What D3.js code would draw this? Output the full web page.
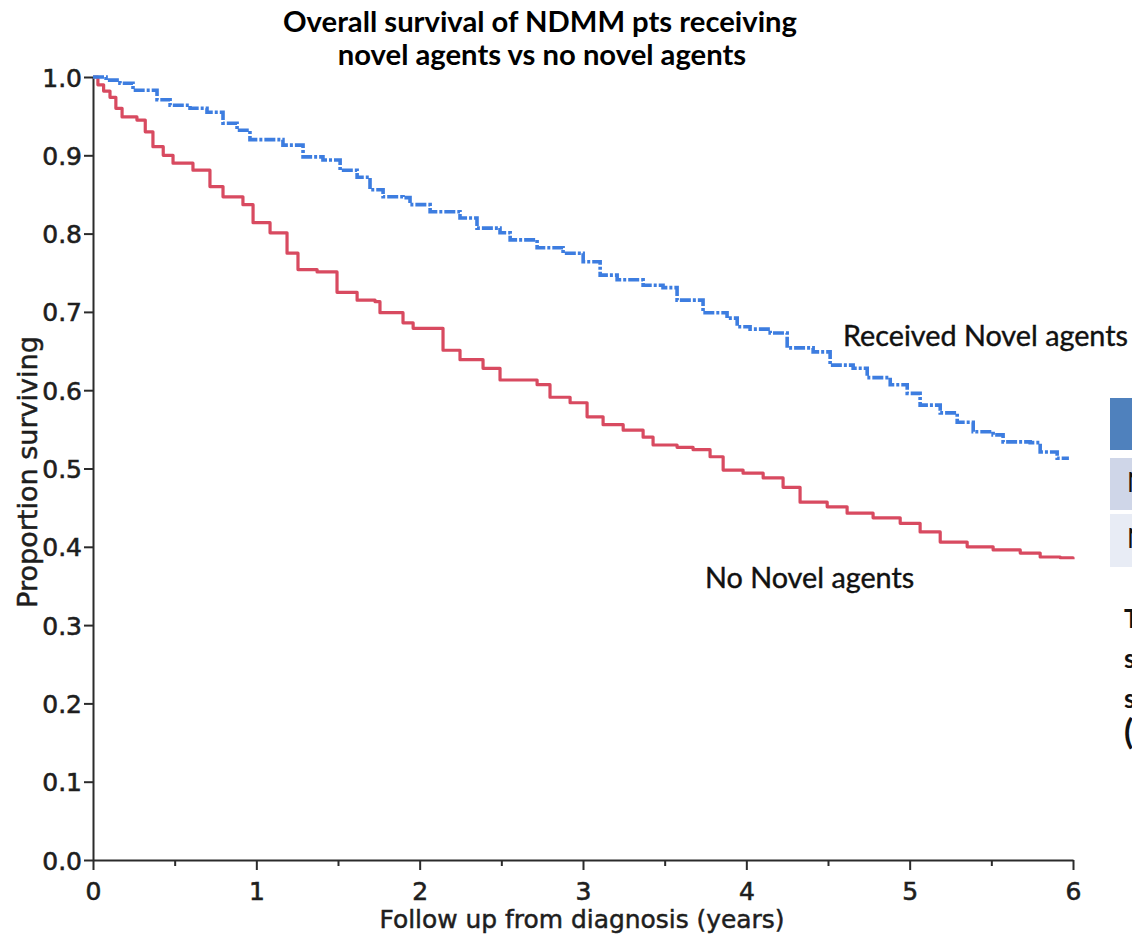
<!DOCTYPE html>
<html>
<head>
<meta charset="utf-8">
<script src="https://cdn.jsdelivr.net/npm/d3@7"></script>
<style>
  html, body { margin: 0; padding: 0; background: #fff; overflow: hidden; }
  svg { display: block; }
</style>
</head>
<body>
<svg id="chart" width="1132" height="937"></svg>
<script>
// ---------- data ----------
const titleLines = ["Overall survival of NDMM pts receiving", "novel agents vs no novel agents"];
const xTicks = [0, 1, 2, 3, 4, 5, 6];
const xMinorTicks = [0.5, 1.5, 2.5, 3.5, 4.5, 5.5];
const yTicks = [0.0, 0.1, 0.2, 0.3, 0.4, 0.5, 0.6, 0.7, 0.8, 0.9, 1.0];
const xLabel = "Follow up from diagnosis (years)";
const yLabel = "Proportion surviving";
const seriesNames = ["Received Novel agents", "No Novel agents"];

// Received Novel agents: [years, proportion surviving]
const novelTimes = [0, 0.08, 0.165, 0.245, 0.392, 0.472, 0.594, 0.698, 0.796, 0.882, 0.961, 1.163, 1.286, 1.408, 1.513, 1.617, 1.696, 1.776, 1.898, 1.941, 2.064, 2.247, 2.351, 2.492, 2.554, 2.719, 2.878, 3.001, 3.105, 3.209, 3.368, 3.490, 3.576, 3.735, 3.882, 3.944, 4.023, 4.146, 4.250, 4.409, 4.513, 4.654, 4.740, 4.881, 4.985, 5.064, 5.187, 5.291, 5.389, 5.511, 5.572, 5.738, 5.799, 5.903, 5.975];
const novelSurv  = [1.000, 0.996, 0.992, 0.983, 0.971, 0.964, 0.960, 0.955, 0.941, 0.932, 0.920, 0.913, 0.898, 0.894, 0.881, 0.872, 0.856, 0.847, 0.846, 0.837, 0.828, 0.820, 0.807, 0.801, 0.792, 0.782, 0.775, 0.764, 0.747, 0.741, 0.734, 0.731, 0.715, 0.699, 0.692, 0.681, 0.678, 0.673, 0.654, 0.649, 0.632, 0.628, 0.616, 0.607, 0.596, 0.581, 0.571, 0.559, 0.547, 0.543, 0.534, 0.533, 0.521, 0.513, 0.513];

// No Novel agents
const noNovelTimes = [0, 0.03, 0.065, 0.104, 0.14, 0.178, 0.269, 0.32, 0.367, 0.43, 0.490, 0.612, 0.716, 0.796, 0.918, 0.980, 1.084, 1.188, 1.255, 1.372, 1.494, 1.617, 1.727, 1.757, 1.898, 1.960, 2.143, 2.247, 2.388, 2.492, 2.719, 2.798, 2.921, 3.025, 3.123, 3.246, 3.368, 3.429, 3.576, 3.674, 3.778, 3.858, 3.980, 4.103, 4.225, 4.329, 4.495, 4.617, 4.776, 4.942, 5.064, 5.187, 5.352, 5.511, 5.677, 5.799, 5.922, 6.0];
const noNovelSurv  = [1.000, 0.990, 0.982, 0.974, 0.960, 0.949, 0.945, 0.930, 0.911, 0.900, 0.890, 0.881, 0.860, 0.847, 0.837, 0.814, 0.801, 0.775, 0.754, 0.751, 0.725, 0.715, 0.713, 0.699, 0.686, 0.679, 0.651, 0.639, 0.628, 0.613, 0.607, 0.591, 0.584, 0.566, 0.556, 0.549, 0.540, 0.530, 0.527, 0.524, 0.515, 0.498, 0.494, 0.488, 0.476, 0.457, 0.451, 0.443, 0.437, 0.430, 0.419, 0.406, 0.400, 0.396, 0.392, 0.387, 0.386, 0.384];

// partially visible side table (cut off at the right edge)
const sideRows = ["", "No novel agents", "Novel agents"];
const sideText = ["The", "survival", "significantly", "("];

// ---------- layout ----------
const svg = d3.select("#chart");
const plot = { left: 93, right: 1073, top: 77, bottom: 860 };

const x = d3.scaleLinear().domain([0, 6]).range([plot.left, plot.right]);
const y = d3.scaleLinear().domain([0, 1]).range([plot.bottom, plot.top]);

const axisColor = "#2b2b2b";
const tickFont = "'DejaVu Sans', sans-serif";
const textColor = "#1e1e1e";

function fitText(sel, targetWidth) {
  const node = sel.node();
  const fs = parseFloat(sel.attr("font-size"));
  const w = node.getComputedTextLength();
  sel.attr("font-size", (fs * targetWidth / w).toFixed(2));
}

// title
const t1 = svg.append("text").attr("x", 540).attr("y", 32)
  .attr("text-anchor", "middle").attr("font-family", "Lato, 'Open Sans', sans-serif")
  .attr("font-weight", "bold").attr("font-size", 26).attr("fill", "#000")
  .text(titleLines[0]);
fitText(t1, 514);
svg.append("text").attr("x", 542).attr("y", 65)
  .attr("text-anchor", "middle").attr("font-family", "Lato, 'Open Sans', sans-serif")
  .attr("font-weight", "bold").attr("font-size", +t1.attr("font-size")).attr("fill", "#000")
  .text(titleLines[1]);

// y axis
const yAxis = svg.append("g").attr("transform", `translate(${plot.left},0)`)
  .call(d3.axisLeft(y).tickValues(yTicks).tickFormat(d3.format(".1f"))
    .tickSize(9).tickSizeOuter(0).tickPadding(2));
yAxis.select(".domain").attr("stroke", axisColor).attr("stroke-width", 2);
yAxis.selectAll(".tick line").attr("stroke", axisColor).attr("stroke-width", 2);
yAxis.selectAll(".tick text").attr("font-family", tickFont).attr("font-size", 25)
  .attr("fill", textColor).attr("stroke", textColor).attr("stroke-width", 0.6).attr("dy", "0.36em");

// x axis
const xAxis = svg.append("g").attr("transform", `translate(0,${plot.bottom})`)
  .call(d3.axisBottom(x).tickValues(xTicks).tickFormat(d3.format("d"))
    .tickSize(10).tickSizeOuter(0).tickPadding(12));
xAxis.select(".domain").attr("stroke", axisColor).attr("stroke-width", 2);
xAxis.selectAll(".tick line").attr("stroke", axisColor).attr("stroke-width", 2);
xAxis.selectAll(".tick text").attr("font-family", tickFont).attr("font-size", 25)
  .attr("fill", textColor).attr("stroke", textColor).attr("stroke-width", 0.6);

const xMinor = svg.append("g").attr("transform", `translate(0,${plot.bottom})`)
  .call(d3.axisBottom(x).tickValues(xMinorTicks).tickFormat("").tickSize(6).tickSizeOuter(0));
xMinor.select(".domain").remove();
xMinor.selectAll(".tick line").attr("stroke", axisColor).attr("stroke-width", 2);

// axis titles
const xl = svg.append("text").attr("x", 582).attr("y", 928).attr("text-anchor", "middle")
  .attr("font-family", tickFont).attr("font-size", 24).attr("fill", textColor)
  .attr("stroke", textColor).attr("stroke-width", 0.5).text(xLabel);
fitText(xl, 405);
const yl = svg.append("text").attr("transform", "translate(37,472) rotate(-90)").attr("text-anchor", "middle")
  .attr("font-family", tickFont).attr("font-size", 24).attr("fill", textColor)
  .attr("stroke", textColor).attr("stroke-width", 0.5).text(yLabel);
fitText(yl, 272);

// curves
const line = d3.line().x(d => x(d[0])).y(d => y(d[1])).curve(d3.curveStepAfter);
const novel = novelTimes.map((t, i) => [t, novelSurv[i]]);
const noNovel = noNovelTimes.map((t, i) => [t, noNovelSurv[i]]);

svg.append("path").datum(noNovel).attr("d", line).attr("fill", "none")
  .attr("stroke", "#d84a60").attr("stroke-width", 3.2).attr("stroke-linejoin", "round");
svg.append("path").datum(novel).attr("d", line).attr("fill", "none")
  .attr("stroke", "#3d7de0").attr("stroke-width", 3.6)
  .attr("stroke-dasharray", "11,2,3,2");

// curve labels
const l1 = svg.append("text").attr("x", 843).attr("y", 346)
  .attr("font-family", "Lato, 'Open Sans', sans-serif").attr("font-size", 26).attr("fill", "#111")
  .attr("stroke", "#111").attr("stroke-width", 0.4)
  .text(seriesNames[0]);
fitText(l1, 285);
svg.append("text").attr("x", 705).attr("y", 588)
  .attr("font-family", "Lato, 'Open Sans', sans-serif").attr("font-size", +l1.attr("font-size")).attr("fill", "#111")
  .attr("stroke", "#111").attr("stroke-width", 0.4)
  .text(seriesNames[1]);

// side table (cut off by the right edge, as in the source slide)
const cellY = [398, 458, 514];
const cellH = [52, 52, 53];
const cellFill = ["#4f81bd", "#cfd6e8", "#e8ecf5"];
svg.selectAll("rect.side").data(sideRows).join("rect").attr("class", "side")
  .attr("x", 1110).attr("y", (d, i) => cellY[i]).attr("width", 60).attr("height", (d, i) => cellH[i])
  .attr("fill", (d, i) => cellFill[i]);
svg.selectAll("text.sideRow").data(sideRows).join("text").attr("class", "sideRow")
  .attr("x", 1127).attr("y", (d, i) => cellY[i] + 34)
  .attr("font-family", "Lato, sans-serif").attr("font-size", 26).attr("fill", "#111")
  .text(d => d);
const sideY = [628, 668, 708, 744];
svg.selectAll("text.sideText").data(sideText).join("text").attr("class", "sideText")
  .attr("x", 1124).attr("y", (d, i) => sideY[i])
  .attr("font-family", "Lato, sans-serif").attr("font-weight", "bold")
  .attr("font-size", (d, i) => i === 3 ? 34 : 26).attr("fill", "#111")
  .text(d => d);
</script>
</body>
</html>
